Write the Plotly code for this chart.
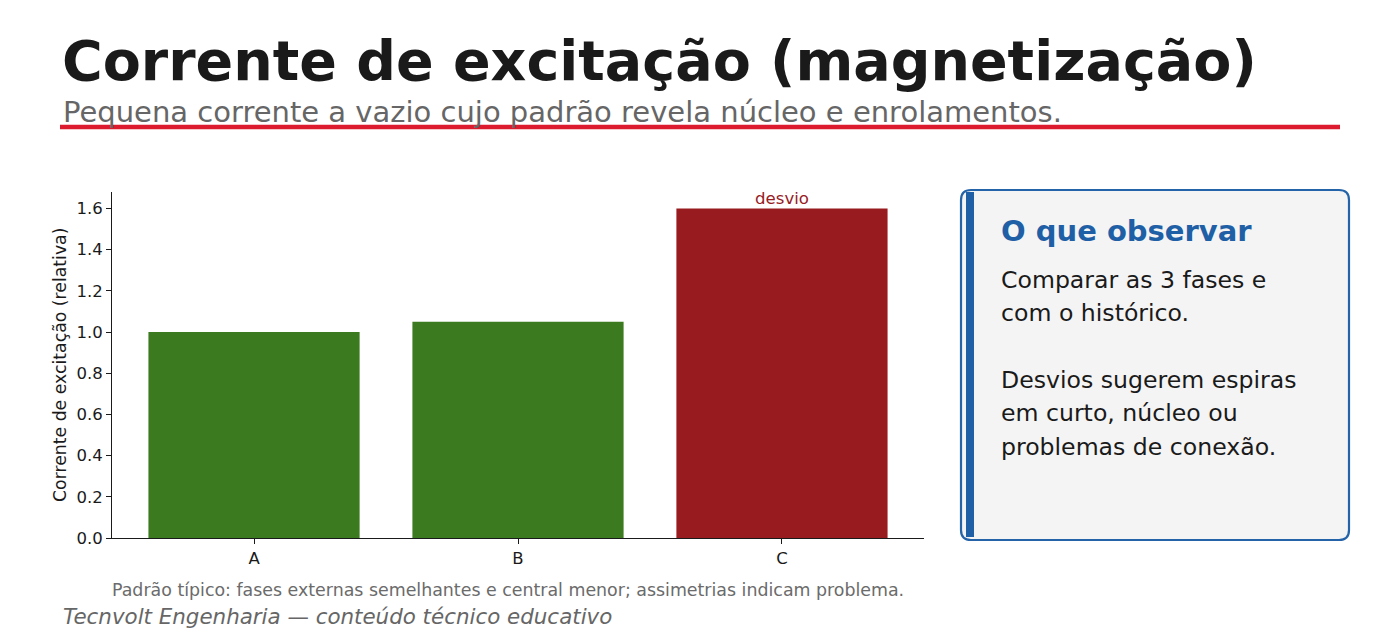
import plotly.graph_objects as go

# ---- data ----
phases = ["A", "B", "C"]
excitation = [1.0, 1.05, 1.6]
bar_colors = ["#3B7A1E", "#3B7A1E", "#981C1F"]
y_ticks = [0.0, 0.2, 0.4, 0.6, 0.8, 1.0, 1.2, 1.4, 1.6]
flag_labels = ["", "", "desvio"]

title = "Corrente de excitação (magnetização)"
subtitle = "Pequena corrente a vazio cujo padrão revela núcleo e enrolamentos."
card_title = "O que observar"
card_lines = ["Comparar as 3 fases e", "com o histórico.", "",
              "Desvios sugerem espiras", "em curto, núcleo ou", "problemas de conexão."]
footnote = "Padrão típico: fases externas semelhantes e central menor; assimetrias indicam problema."
footer = "Tecnvolt Engenharia — conteúdo técnico educativo"

W, H = 1400, 640
L, R, T, B = 112, 924, 192, 538
FONT = "DejaVu Sans"


def px(x):
    return (x - L) / (R - L)


def py(y):
    return (B - y) / (B - T)


fig = go.Figure()
fig.add_trace(go.Bar(
    x=phases, y=excitation, width=0.8,
    marker=dict(color=bar_colors, line=dict(width=0)),
    hoverinfo="skip",
))

annotations = []
# value flags
for ph, v, lab, c in zip(phases, excitation, flag_labels, bar_colors):
    if lab:
        annotations.append(dict(x=ph, y=v, xref="x", yref="y", text=lab, showarrow=False,
                                yanchor="bottom", yshift=-2,
                                font=dict(family=FONT, size=16.6, color=c)))

annotations += [
    dict(x=px(60), y=py(60), text=f"<b>{title}</b>", xanchor="left", yanchor="middle",
         font=dict(family=FONT, size=55.5, color="#1A1A1A")),
    dict(x=px(61), y=py(112), text=subtitle, xanchor="left", yanchor="middle",
         font=dict(family=FONT, size=29, color="#666666")),
    dict(x=px(60), y=0.5, text="Corrente de excitação (relativa)", textangle=-90,
         xanchor="center", yanchor="middle",
         font=dict(family=FONT, size=17.3, color="#1A1A1A")),
    dict(x=px(999), y=py(231), text=f"<b>{card_title}</b>", xanchor="left", yanchor="middle",
         font=dict(family=FONT, size=29, color="#1F5FA6")),
    dict(x=px(110), y=py(590), text=footnote, xanchor="left", yanchor="middle",
         font=dict(family=FONT, size=17.4, color="#6B6B6B")),
    dict(x=px(61), y=py(616), text=f"<i>{footer}</i>", xanchor="left", yanchor="middle",
         font=dict(family=FONT, size=21.4, color="#666666")),
]
for i, line in enumerate(card_lines):
    if line:
        annotations.append(dict(x=px(999), y=py(280 + 33.3 * i), text=line,
                                xanchor="left", yanchor="middle",
                                font=dict(family=FONT, size=23.6, color="#1A1A1A")))
for a in annotations:
    a.setdefault("xref", "paper")
    a.setdefault("yref", "paper")
    a.setdefault("showarrow", False)

# rounded card path
x0, x1, y0, y1, r = 961, 1349, 190, 540, 10


def P(x, y):
    return f"{px(x):.5f},{py(y):.5f}"


path = (f"M {P(x0 + r, y0)} L {P(x1 - r, y0)} Q {P(x1, y0)} {P(x1, y0 + r)} "
        f"L {P(x1, y1 - r)} Q {P(x1, y1)} {P(x1 - r, y1)} "
        f"L {P(x0 + r, y1)} Q {P(x0, y1)} {P(x0, y1 - r)} "
        f"L {P(x0, y0 + r)} Q {P(x0, y0)} {P(x0 + r, y0)} Z")

shapes = [
    dict(type="line", xref="paper", yref="paper", x0=px(60), x1=px(1340), y0=py(127), y1=py(127),
         line=dict(color="#DC1C2E", width=4.5)),
    dict(type="path", xref="paper", yref="paper", path=path, fillcolor="#F4F4F4",
         line=dict(color="#2463A8", width=2.2), layer="below"),
    dict(type="rect", xref="paper", yref="paper", x0=px(966), x1=px(974), y0=py(537), y1=py(192),
         fillcolor="#1F5FA6", line=dict(width=0)),
]

fig.update_layout(
    width=W, height=H,
    margin=dict(l=L, r=W - R, t=T, b=H - B, pad=0),
    paper_bgcolor="white", plot_bgcolor="white",
    showlegend=False,
    font=dict(family=FONT, size=16.5, color="#1A1A1A"),
    annotations=annotations, shapes=shapes,
    bargap=0.2,
)
fig.update_xaxes(range=[-0.538, 2.538], showline=True, linecolor="#1A1A1A", linewidth=1,
                 ticks="outside", ticklen=5, tickcolor="#1A1A1A", showgrid=False, zeroline=False,
                 tickfont=dict(family=FONT, size=16.5, color="#1A1A1A"))
fig.update_yaxes(range=[0, 1.68], tickvals=y_ticks, ticktext=[f"{v:.1f}" for v in y_ticks],
                 showline=True, linecolor="#1A1A1A", linewidth=1,
                 ticks="outside", ticklen=5, tickcolor="#1A1A1A", showgrid=False, zeroline=False,
                 tickfont=dict(family=FONT, size=16.5, color="#1A1A1A"))

fig.write_html("out.html")
